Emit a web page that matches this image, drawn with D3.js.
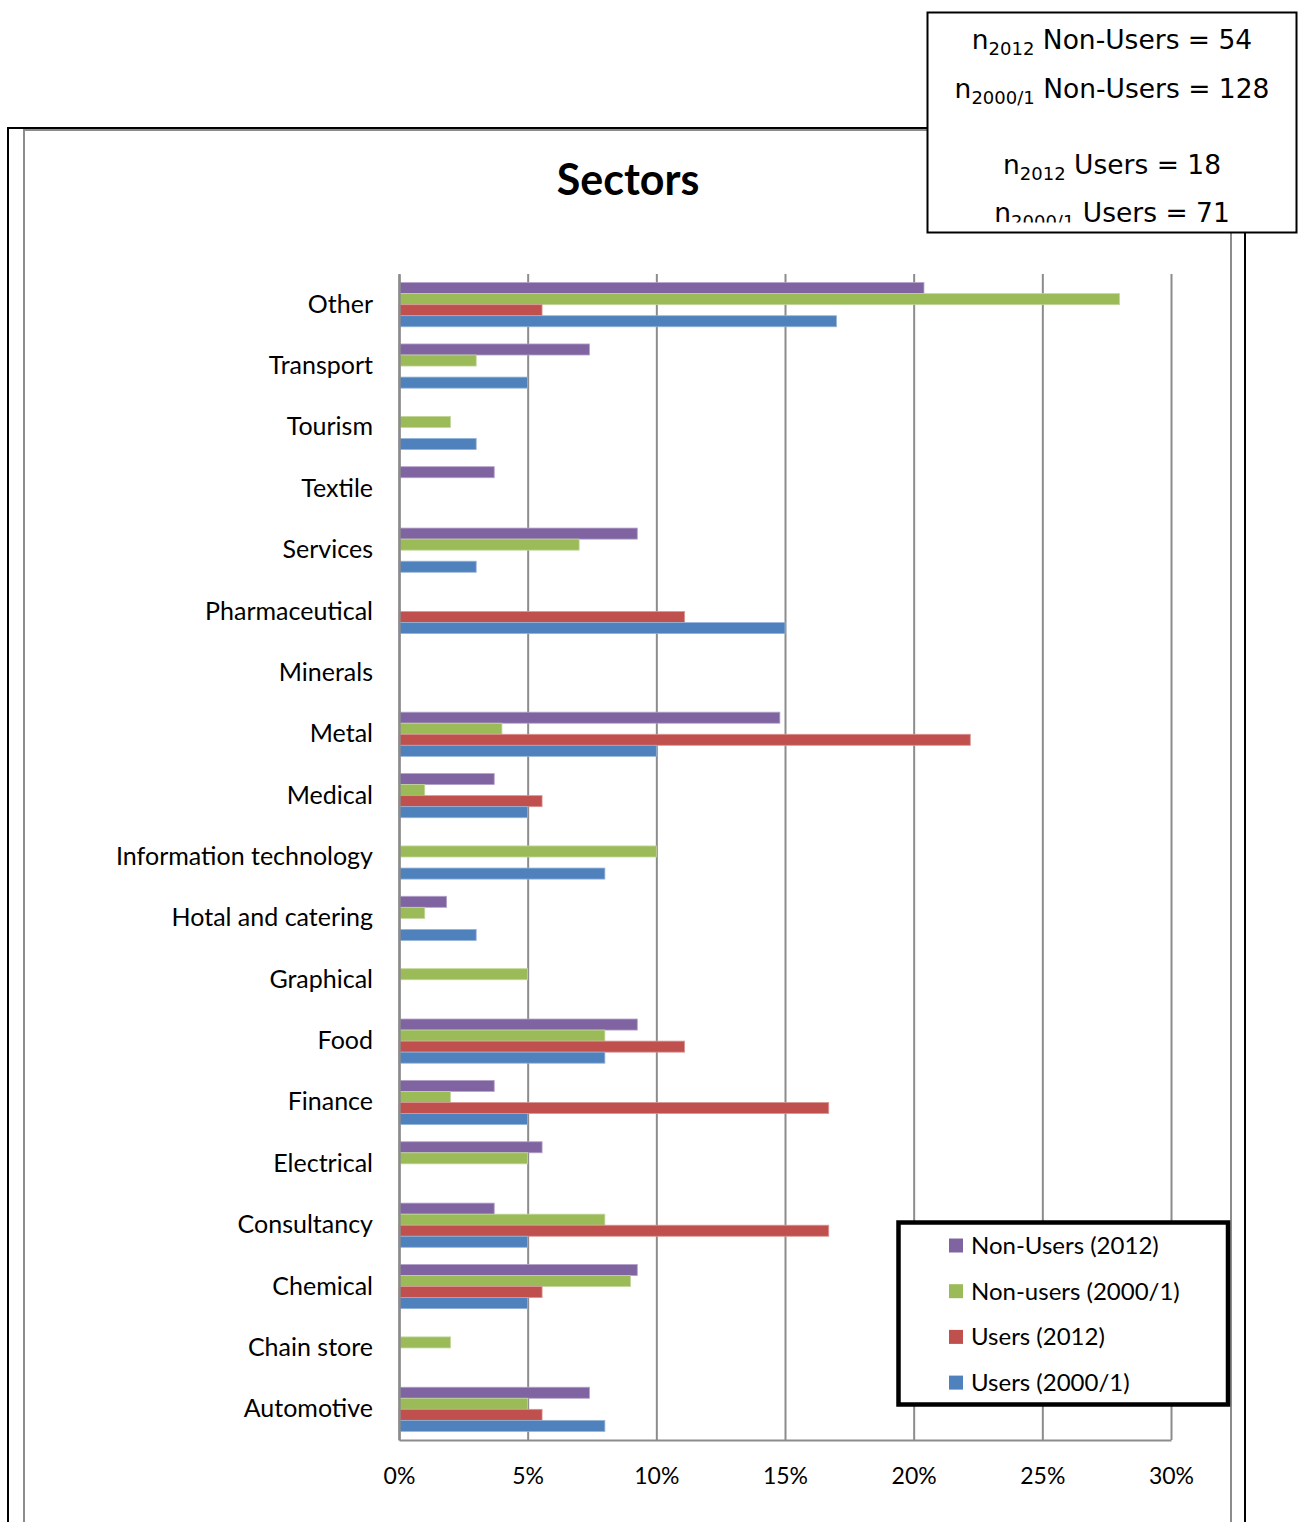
<!DOCTYPE html>
<html><head><meta charset="utf-8">
<script src="https://cdn.jsdelivr.net/npm/d3@7"></script>
<style>body{margin:0;background:#fff}svg{display:block}</style>
</head><body>
<script>
const categories = ["Other","Transport","Tourism","Textile","Services","Pharmaceutical","Minerals","Metal","Medical","Information technology","Hotal and catering","Graphical","Food","Finance","Electrical","Consultancy","Chemical","Chain store","Automotive"];
const seriesNames = ["Non-Users (2012)","Non-users (2000/1)","Users (2012)","Users (2000/1)"];
const nonUsers2012 = [20.4,7.4,0,3.7,9.26,0,0,14.8,3.7,0,1.85,0,9.26,3.7,5.56,3.7,9.26,0,7.4];
const nonUsers2000 = [28.0,3.0,2.0,0,7.0,0,0,4.0,1.0,10.0,1.0,5.0,8.0,2.0,5.0,8.0,9.0,2.0,5.0];
const users2012 = [5.56,0,0,0,0,11.1,0,22.2,5.56,0,0,0,11.1,16.7,0,16.7,5.56,0,5.56];
const users2000 = [17.0,5.0,3.0,0,3.0,15.0,0,10.0,5.0,8.0,3.0,0,8.0,5.0,0,5.0,5.0,0,8.0];
const xTicks = [0,5,10,15,20,25,30];
const colors = ["#8064A2","#9BBB59","#C0504D","#4F81BD"];
const strokes = ["#b3a2c7","#c3d69b","#d99694","#95b3d7"];
const nLines = [["2012","Non-Users","54"],["2000/1","Non-Users","128"],["2012","Users","18"],["2000/1","Users","71"]];

const seriesData = [nonUsers2012, nonUsers2000, users2012, users2000];

const W = 1299, H = 1522;
const svg = d3.select("body").append("svg").attr("width", W).attr("height", H);

// borders
svg.append("rect").attr("x",8).attr("y",128).attr("width",1237).attr("height",1420)
  .attr("fill","#fff").attr("stroke","#000").attr("stroke-width",2);
svg.append("rect").attr("x",24).attr("y",130).attr("width",1207).attr("height",1420)
  .attr("fill","#fff").attr("stroke","#8c8c8c").attr("stroke-width",2);

// title
svg.append("text").attr("x",628).attr("y",195).attr("text-anchor","middle")
  .attr("font-family","Lato").attr("font-weight","bold").attr("font-size",43).attr("fill","#000").text("Sectors");

const x = d3.scaleLinear().domain([0,30]).range([399,1171]);
const y = d3.scaleBand().domain(categories).range([274,1440]).paddingInner(0.28).paddingOuter(0.14);
const ySub = d3.scaleBand().domain(seriesNames).range([0, y.bandwidth()]);

// gridlines
const grid = svg.append("g").attr("transform","translate(0,1440)")
  .call(d3.axisBottom(x).tickValues(xTicks).tickSize(-1166).tickFormat(""));
grid.select(".domain").remove();
grid.selectAll("line").attr("stroke","#8c8c8c").attr("stroke-width",2);

// bars
const gCat = svg.append("g").selectAll("g").data(categories).join("g")
  .attr("transform", d => `translate(0,${y(d)})`);
gCat.selectAll("rect").data((c,i) => seriesNames.map((s,j) => ({s, j, v: seriesData[j][i]})).filter(d => d.v > 0))
  .join("rect")
  .attr("x", x(0)).attr("y", d => ySub(d.s))
  .attr("width", d => x(d.v) - x(0)).attr("height", ySub.bandwidth())
  .attr("fill", d => colors[d.j]).attr("stroke", d => strokes[d.j]).attr("stroke-width", 0.8);

// x axis
const xAxis = svg.append("g").attr("transform","translate(0,1440)")
  .call(d3.axisBottom(x).tickValues(xTicks).tickSize(0).tickPadding(0).tickFormat(d => d + "%"));
xAxis.select(".domain").attr("stroke","#8c8c8c").attr("stroke-width",2);
xAxis.selectAll("text").attr("y",36).attr("dy","0.35em").attr("font-family","Lato").attr("font-size",23).attr("fill","#000");

// y axis
const yAxis = svg.append("g").attr("transform","translate(399,0)")
  .call(d3.axisLeft(y).tickSize(0).tickPadding(26));
yAxis.select(".domain").attr("stroke","#8c8c8c").attr("stroke-width",2.5);
yAxis.selectAll("text").attr("font-family","Lato").attr("font-size",25).attr("fill","#000");

// legend
const leg = svg.append("g");
leg.append("rect").attr("x",898.5).attr("y",1222.5).attr("width",329.5).attr("height",182)
  .attr("fill","#fff").attr("stroke","#000").attr("stroke-width",4.5);
const li = leg.selectAll("g.li").data(seriesNames).join("g").attr("class","li")
  .attr("transform",(d,i) => `translate(949,${1245.5 + i*45.7})`);
li.append("rect").attr("x",0).attr("y",-7).attr("width",14).attr("height",14).attr("fill",(d,i)=>colors[i]);
li.append("text").attr("x",22).attr("y",0).attr("dy","0.35em").attr("font-family","Lato").attr("font-size",24).attr("fill","#000").text(d=>d);

// n box
svg.append("defs").append("clipPath").attr("id","boxclip").append("rect")
  .attr("x",928).attr("y",13).attr("width",368).attr("height",209.5);
svg.append("rect").attr("x",927.5).attr("y",12.5).attr("width",369).attr("height",220)
  .attr("fill","#fff").attr("stroke","#000").attr("stroke-width",2);
const tb = svg.append("g").attr("clip-path","url(#boxclip)");
const baselines = [49, 98, 174, 222];
nLines.forEach((l,i) => {
  const t = tb.append("text").attr("x",1112).attr("y",baselines[i]).attr("text-anchor","middle")
    .attr("font-family","DejaVu Sans").attr("font-size",26.5).attr("fill","#000");
  t.append("tspan").text("n");
  t.append("tspan").attr("font-size",18).attr("dy",6).text(l[0]);
  t.append("tspan").attr("dy",-6).text(` ${l[1]} = ${l[2]}`);
});
</script>
</body></html>
